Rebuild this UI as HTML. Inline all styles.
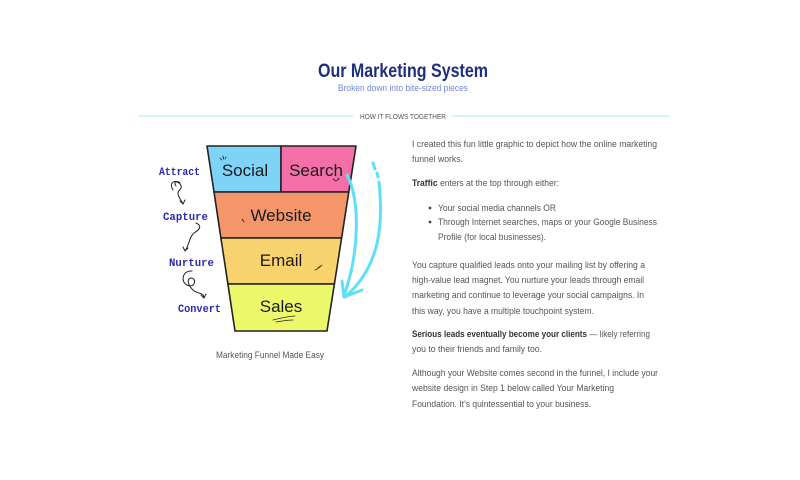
<!DOCTYPE html>
<html><head><meta charset="utf-8"><style>
html,body{margin:0;padding:0;background:#fff;width:800px;height:480px;overflow:hidden}
svg{display:block}
.t{font-family:"Liberation Sans",Arial,sans-serif;fill:#555;font-size:9px}
.b{font-weight:bold;fill:#333}
.hw{font-family:"Liberation Mono","DejaVu Sans Mono",monospace;font-weight:bold;fill:#2b2ab0;font-size:11px}
.fl{font-family:"Liberation Sans",Arial,sans-serif;fill:#1a1a1a;font-size:17px}
</style></head><body>
<svg width="800" height="480" viewBox="0 0 800 480" xmlns="http://www.w3.org/2000/svg">
<!-- header -->
<text x="318" y="77" textLength="170" lengthAdjust="spacingAndGlyphs" font-family="Liberation Sans, Arial, sans-serif" font-size="19.5" font-weight="bold" fill="#1e2f7d">Our Marketing System</text>
<text x="338" y="91" textLength="130" lengthAdjust="spacingAndGlyphs" font-family="Liberation Sans, Arial, sans-serif" font-size="9" fill="#6f86e0">Broken down into bite-sized pieces</text>
<line x1="138" y1="116" x2="353" y2="116" stroke="#b3f1f6" stroke-width="1.2"/>
<line x1="452" y1="116" x2="670" y2="116" stroke="#b3f1f6" stroke-width="1.2"/>
<text x="360" y="119" textLength="86" lengthAdjust="spacingAndGlyphs" font-family="Liberation Sans, Arial, sans-serif" font-size="7" fill="#555">HOW IT FLOWS TOGETHER</text>

<!-- funnel -->
<g stroke="#222" stroke-width="1.6" stroke-linejoin="round">
<polygon points="207,146 281,146 281,192 214,192" fill="#7fd3f7"/>
<polygon points="281,146 356,146 348.8,192 281,192" fill="#f46fa7"/>
<polygon points="214,192 348.8,192 341.6,238 220.9,238" fill="#f5956a"/>
<polygon points="220.9,238 341.6,238 334.4,284 227.9,284" fill="#f9d36d"/>
<polygon points="227.9,284 334.4,284 327,331 235,331" fill="#ecf76a"/>
</g>
<text class="fl" x="245" y="176" text-anchor="middle">Social</text>
<text class="fl" x="316" y="176" text-anchor="middle">Search</text>
<text class="fl" x="281" y="221" text-anchor="middle">Website</text>
<text class="fl" x="281" y="266" text-anchor="middle">Email</text>
<text class="fl" x="281" y="312" text-anchor="middle">Sales</text>
<!-- doodles -->
<g stroke="#222" stroke-width="0.8" fill="none" stroke-linecap="round">
<path d="M220,158 l2,2 M223,156 l0.5,3 M226,157 l-1,2"/>
<path d="M333,179 l3,2 l3,-2 M338,178 l1,1"/>
<path d="M242,219 l2,3"/>
<path d="M315,270 c3,-1 5,-3 7,-5 M318,267 c1,1 2,0 2,-1"/>
<path d="M273,320 c8,-2 16,-4 22,-4 M276,322 c6,-1 12,-2 17,-2"/>
</g>

<!-- cyan arrows -->
<g stroke="#5ee0f6" stroke-width="3" fill="none" stroke-linecap="round">
<path d="M347,175 C360,200 360,250 344,296"/>
<path d="M373,163 l2,6"/>
<path d="M377,173 l1,4"/>
<path d="M379,182 C383,220 382,265 345,297"/>
<path d="M344,297 L342,281 M344,297 L362,290"/>
</g>

<!-- left labels -->
<text class="hw" x="159" y="175" textLength="41" lengthAdjust="spacingAndGlyphs">Attract</text>
<text class="hw" x="163" y="220" textLength="45" lengthAdjust="spacingAndGlyphs">Capture</text>
<text class="hw" x="169" y="266" textLength="45" lengthAdjust="spacingAndGlyphs">Nurture</text>
<text class="hw" x="178" y="312" textLength="43" lengthAdjust="spacingAndGlyphs">Convert</text>
<g stroke="#222" stroke-width="1" fill="none" stroke-linecap="round">
<path d="M173,190 C168,182 176,179 180,184 C184,189 177,190 178,194 C179,198 181,200 183,204"/>
<path d="M183,204 L180,201 M183,204 L185,200"/>
<path d="M176,186 C173,182 177,180 180,183"/>
<path d="M196,223 C203,226 199,230 194,233 C189,237 189,246 185,251"/>
<path d="M185,251 L183,247 M185,251 L188,248"/>
<path d="M192,271 C181,270 180,285 190,286 C196,286 196,278 191,278 C186,279 188,285 193,290 C197,294 204,292 204,298"/>
<path d="M204,298 L201,295 M204,298 L206,294"/>
</g>

<!-- caption -->
<text x="216" y="358" textLength="108" lengthAdjust="spacingAndGlyphs" font-family="Liberation Sans, Arial, sans-serif" font-size="9" fill="#555">Marketing Funnel Made Easy</text>

<!-- right text -->
<text class="t" x="412" y="147" textLength="245" lengthAdjust="spacingAndGlyphs">I created this fun little graphic to depict how the online marketing</text>
<text class="t" x="412" y="162" textLength="51" lengthAdjust="spacingAndGlyphs">funnel works.</text>
<text class="t" x="412" y="186" textLength="147" lengthAdjust="spacingAndGlyphs"><tspan class="b">Traffic</tspan> enters at the top through either:</text>
<circle cx="430" cy="208" r="1.4" fill="#444"/>
<circle cx="430" cy="222" r="1.4" fill="#444"/>
<text class="t" x="438" y="211" textLength="118" lengthAdjust="spacingAndGlyphs">Your social media channels OR</text>
<text class="t" x="438" y="225" textLength="219" lengthAdjust="spacingAndGlyphs">Through Internet searches, maps or your Google Business</text>
<text class="t" x="438" y="240" textLength="108" lengthAdjust="spacingAndGlyphs">Profile (for local businesses).</text>

<text class="t" x="412" y="268" textLength="233" lengthAdjust="spacingAndGlyphs">You capture qualified leads onto your mailing list by offering a</text>
<text class="t" x="412" y="283" textLength="232" lengthAdjust="spacingAndGlyphs">high-value lead magnet. You nurture your leads through email</text>
<text class="t" x="412" y="298" textLength="232" lengthAdjust="spacingAndGlyphs">marketing and continue to leverage your social campaigns. In</text>
<text class="t" x="412" y="314" textLength="182" lengthAdjust="spacingAndGlyphs">this way, you have a multiple touchpoint system.</text>

<text class="t" x="412" y="337" textLength="238" lengthAdjust="spacingAndGlyphs"><tspan class="b">Serious leads eventually become your clients</tspan> — likely referring</text>
<text class="t" x="412" y="352" textLength="130" lengthAdjust="spacingAndGlyphs">you to their friends and family too.</text>

<text class="t" x="412" y="376" textLength="246" lengthAdjust="spacingAndGlyphs">Although your Website comes second in the funnel, I include your</text>
<text class="t" x="412" y="391" textLength="202" lengthAdjust="spacingAndGlyphs">website design in Step 1 below called Your Marketing</text>
<text class="t" x="412" y="407" textLength="179" lengthAdjust="spacingAndGlyphs">Foundation. It’s quintessential to your business.</text>
</svg>
</body></html>
